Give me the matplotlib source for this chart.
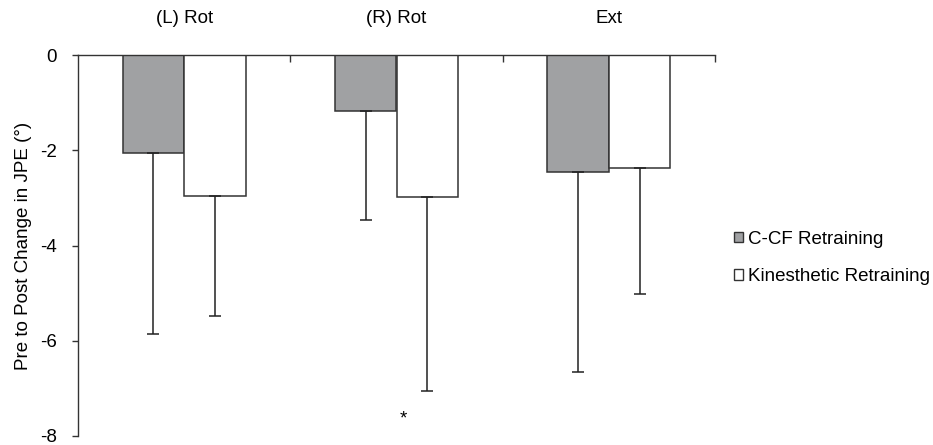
import numpy as np
import matplotlib.pyplot as plt
from matplotlib.patches import Patch

plt.rcParams['font.family'] = ['Liberation Sans', 'DejaVu Sans']
plt.rcParams['axes.unicode_minus'] = False

categories = ['(L) Rot', '(R) Rot', 'Ext']
ccf = [-2.06, -1.17, -2.46]
ccf_err = [3.80, 2.30, 4.20]
kin = [-2.96, -2.98, -2.37]
kin_err = [2.52, 4.08, 2.65]

fs = 13.5
fig = plt.figure(figsize=(9.33, 4.45), dpi=100)
ax = fig.add_axes([78 / 933, 1 - 436 / 445, (715 - 78) / 933, (436 - 55) / 445])

x = np.arange(len(categories))
w = 0.29
gray = '#a0a1a3'
edge = '#333333'
err_kw = dict(ecolor='#222222', elinewidth=1.1, capsize=4, capthick=1.1)

# errors only go downward from the bar end
ax.bar(x - w / 2, ccf, w, color=gray, edgecolor=edge, linewidth=1.1,
       yerr=[ccf_err, np.zeros(3)], error_kw=err_kw, label='C-CF Retraining')
ax.bar(x + w / 2, kin, w, color='white', edgecolor=edge, linewidth=1.1,
       yerr=[kin_err, np.zeros(3)], error_kw=err_kw, label='Kinesthetic Retraining')

ax.set_xlim(-0.5, 2.5)
ax.set_ylim(-8, 0)
ax.set_yticks([0, -2, -4, -6, -8])
ax.tick_params(axis='y', labelsize=fs, length=4, width=1, color='#333333', pad=11)

for s in ['bottom', 'right']:
    ax.spines[s].set_visible(False)
for s in ['left', 'top']:
    ax.spines[s].set_color('#333333')
    ax.spines[s].set_linewidth(1)

ax.xaxis.tick_top()
ax.set_xticks([0.5, 1.5, 2.5])
ax.set_xticklabels([])
ax.tick_params(axis='x', which='major', direction='in', length=5, width=1, color='#333333')
ax.set_xticks(x, minor=True)
ax.set_xticklabels(categories, minor=True)
ax.tick_params(axis='x', which='minor', length=0, labelsize=fs, pad=20)

ax.set_ylabel('Pre to Post Change in JPE (°)', fontsize=fs, labelpad=6)

ax.text(1.03, -7.65, '*', ha='center', va='center', fontsize=fs)

handles = [Patch(facecolor=gray, edgecolor=edge, linewidth=1),
           Patch(facecolor='white', edgecolor=edge, linewidth=1)]
fig.legend(handles, ['C-CF Retraining', 'Kinesthetic Retraining'],
           loc='center left', bbox_to_anchor=(734 / 933, 1 - 258 / 445),
           frameon=False, fontsize=fs, handlelength=0.5, handleheight=0.5,
           handletextpad=0.25, labelspacing=1.1, borderpad=0, borderaxespad=0)

fig.savefig('out.png', dpi=100)
